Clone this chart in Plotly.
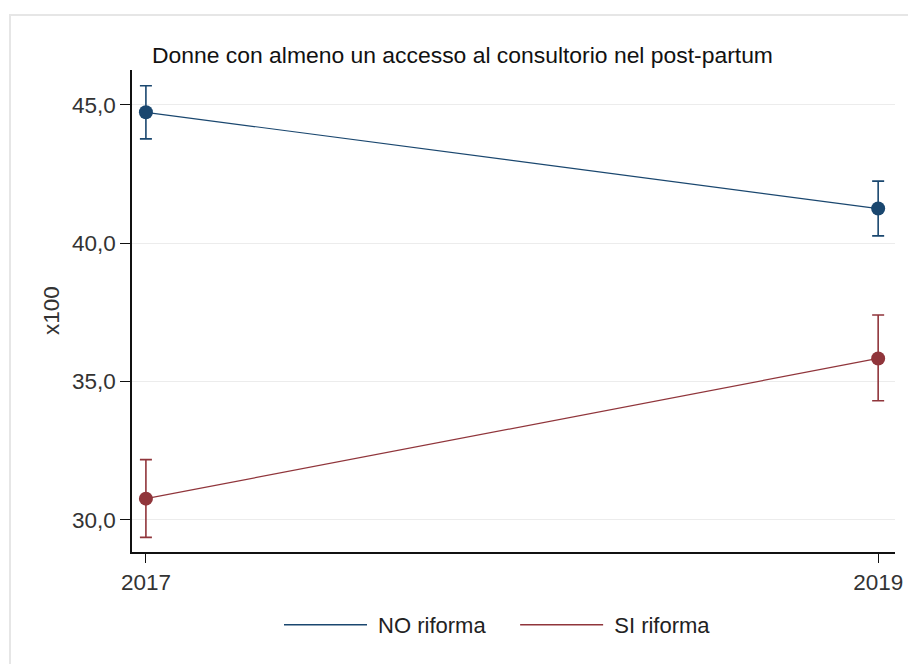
import plotly.graph_objects as go

years = [2017, 2019]
no_riforma = [44.73, 41.25]
no_err_hi = [45.69, 42.24]
no_err_lo = [43.77, 40.26]
si_riforma = [30.76, 35.83]
si_err_hi = [32.17, 37.40]
si_err_lo = [29.36, 34.30]
y_ticks = [30, 35, 40, 45]
y_tick_labels = ["30,0", "35,0", "40,0", "45,0"]
title_text = "Donne con almeno un accesso al consultorio nel post-partum"
series_names = ["NO riforma", "SI riforma"]

NAVY = "#1a476f"
MAROON = "#90353b"
FONT = "Liberation Sans, Arial, sans-serif"
FS = 22.5
NB = "\u00a0"

def err(vals, hi, lo):
    return dict(type="data", symmetric=False,
                array=[h - v for h, v in zip(hi, vals)],
                arrayminus=[v - l for v, l in zip(vals, lo)],
                thickness=1.6, width=6)

fig = go.Figure()
legend_labels = [NB + series_names[0] + NB * 4, NB + series_names[1]]
for name, lab, vals, hi, lo, col in [
    (series_names[0], legend_labels[0], no_riforma, no_err_hi, no_err_lo, NAVY),
    (series_names[1], legend_labels[1], si_riforma, si_err_hi, si_err_lo, MAROON),
]:
    e = err(vals, hi, lo)
    e["color"] = col
    fig.add_trace(go.Scatter(
        x=years, y=vals, mode="lines+markers", name=name,
        line=dict(color=col, width=1.2),
        marker=dict(color=col, size=14),
        error_y=e, showlegend=False,
    ))
    # legend-only entry (line symbol like the reference)
    fig.add_trace(go.Scatter(
        x=[None], y=[None], mode="lines", name=lab,
        line=dict(color=col, width=1.6), showlegend=True,
    ))

W, H = 908, 664
L, R, T, B = 132, 13, 70, 112
pw, ph = W - L - R, H - T - B

def px_x(x):
    return (x - L) / pw

def px_y(y):
    return 1 - (y - T) / ph

fig.update_layout(
    width=W, height=H,
    margin=dict(l=L, r=R, t=T, b=B, autoexpand=False),
    paper_bgcolor="white", plot_bgcolor="white",
    font=dict(family=FONT, size=FS, color="#333333"),
    title=dict(text=title_text, x=152 / W, xanchor="left", xref="container",
               y=1 - 55 / H, yanchor="middle", yref="container",
               font=dict(family=FONT, size=22.9, color="#111111")),
    showlegend=True,
    legend=dict(orientation="h", x=px_x(279), xanchor="left",
                y=px_y(625), yanchor="middle", itemwidth=83,
                font=dict(family=FONT, size=22, color="#222222"),
                bgcolor="rgba(0,0,0,0)"),
    xaxis=dict(range=[2016.962, 2019.046], tickvals=years,
               ticktext=[str(y) for y in years], automargin=False,
               showgrid=False, zeroline=False, showline=True,
               linecolor="#111111", linewidth=1.6,
               ticks="outside", ticklen=9, tickwidth=1.4, tickcolor="#111111",
               tickfont=dict(family=FONT, size=FS, color="#333333")),
    yaxis=dict(range=[28.83, 46.26], tickvals=y_ticks, ticktext=y_tick_labels,
               automargin=False,
               showgrid=True, gridcolor="#ececec", gridwidth=1,
               zeroline=False, showline=True,
               linecolor="#111111", linewidth=1.6,
               ticks="outside", ticklen=10, tickwidth=1.4, tickcolor="#111111",
               tickfont=dict(family=FONT, size=FS, color="#333333")),
    annotations=[dict(text="x100", x=px_x(51), y=0.5, xref="paper", yref="paper",
                      xanchor="center", yanchor="middle", textangle=-90,
                      showarrow=False,
                      font=dict(family=FONT, size=FS, color="#333333"))],
    shapes=[dict(type="rect", xref="paper", yref="paper",
                 x0=px_x(10), x1=px_x(925), y0=px_y(690), y1=px_y(15),
                 line=dict(color="#e6e6e6", width=2), layer="below")],
)

fig.write_html("out.html")
